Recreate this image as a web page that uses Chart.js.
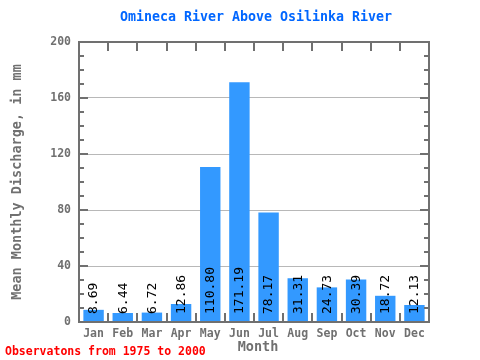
<!DOCTYPE html>
<html><head><meta charset="utf-8">
<script src="https://cdn.jsdelivr.net/npm/chart.js@4/dist/chart.umd.min.js"></script>
<style>html,body{margin:0;padding:0;background:#fff}#w{width:480px;height:360px}</style>
</head><body><div id="w"><canvas id="c" width="480" height="360"></canvas></div>
<script>
const months = ["Jan","Feb","Mar","Apr","May","Jun","Jul","Aug","Sep","Oct","Nov","Dec"];
const discharge = [8.69,6.44,6.72,12.86,110.80,171.19,78.17,31.31,24.73,30.39,18.72,12.13];
const valueLabels = ["8.69","6.44","6.72","12.86","110.80","171.19","78.17","31.31","24.73","30.39","18.72","12.13"];
const yTicks = [0,40,80,120,160,200];
const titleText = "Omineca River Above Osilinka River";
const yTitle = "Mean Monthly Discharge, in mm";
const xTitle = "Month";
const footText = "Observatons from 1975 to 2000";

const MONO = '"DejaVu Sans Mono", "Liberation Mono", monospace';
const GRAY = '#707070';

const deco = {
  id: 'deco',
  afterDatasetsDraw(chart) {
    const ctx = chart.ctx, a = chart.chartArea, y = chart.scales.y;
    ctx.save();
    // value labels
    const meta = chart.getDatasetMeta(0);
    ctx.fillStyle = '#000';
    ctx.font = '13px ' + MONO;
    ctx.textAlign = 'left';
    ctx.textBaseline = 'middle';
    meta.data.forEach((bar, i) => {
      ctx.save();
      ctx.translate(bar.x + 0.5, y.getPixelForValue(0) - 8);
      ctx.rotate(-Math.PI / 2);
      ctx.fillText(valueLabels[i], 0, 0);
      ctx.restore();
    });
    // frame
    ctx.strokeStyle = GRAY;
    ctx.lineWidth = 2;
    ctx.strokeRect(a.left, a.top, a.right - a.left, a.bottom - a.top);
    // y ticks (left and right)
    for (let v = 0; v <= 200; v += 10) {
      const py = Math.round(y.getPixelForValue(v));
      const len = (v % 40 === 0) ? 9 : 5;
      ctx.beginPath();
      ctx.moveTo(a.left, py); ctx.lineTo(a.left + len, py);
      ctx.moveTo(a.right, py); ctx.lineTo(a.right - len, py);
      ctx.stroke();
    }
    // x ticks at category boundaries
    const n = months.length;
    const w = (a.right - a.left) / n;
    for (let i = 1; i < n; i++) {
      const px = Math.round(a.left + i * w);
      ctx.beginPath();
      ctx.moveTo(px, a.bottom); ctx.lineTo(px, a.bottom - 9);
      ctx.moveTo(px, a.top); ctx.lineTo(px, a.top + 9);
      ctx.stroke();
    }
    // titles
    ctx.textAlign = 'center';
    ctx.textBaseline = 'middle';
    ctx.fillStyle = '#0066ff';
    ctx.font = 'bold 13.3px ' + MONO;
    ctx.fillText(titleText, 256, 18);
    ctx.fillStyle = GRAY;
    ctx.font = 'bold 13.5px ' + MONO;
    ctx.fillText(xTitle, 258, 347);
    ctx.save();
    ctx.translate(17, 182);
    ctx.rotate(-Math.PI / 2);
    ctx.fillText(yTitle, 0, 0);
    ctx.restore();
    ctx.fillStyle = '#ff0000';
    ctx.font = 'bold 11.5px ' + MONO;
    ctx.textAlign = 'left';
    ctx.fillText(footText, 5, 352);
    ctx.restore();
  }
};

new Chart(document.getElementById('c'), {
  type: 'bar',
  data: { labels: months, datasets: [{ data: discharge, backgroundColor: '#3399ff', borderWidth: 0, categoryPercentage: 0.7, barPercentage: 1.0 }] },
  options: {
    responsive: false, animation: false,
    layout: { padding: { top: 42, right: 51, bottom: 0, left: 0 } },
    plugins: { legend: { display: false }, title: { display: false }, tooltip: { enabled: false } },
    scales: {
      x: {
        afterFit(s) { s.height = 38; },
        grid: { display: false, drawTicks: false },
        border: { display: false },
        ticks: { color: GRAY, font: { family: MONO, size: 11.5, weight: 'bold' }, padding: 5, maxRotation: 0 }
      },
      y: {
        min: 0, max: 200,
        afterFit(s) { s.width = 79; },
        afterBuildTicks(s) { s.ticks = yTicks.map(v => ({ value: v })); },
        grid: { color: '#b8b8b8', lineWidth: 1, drawTicks: false },
        border: { display: false },
        ticks: { color: GRAY, font: { family: MONO, size: 11.5, weight: 'bold' }, padding: 8 }
      }
    }
  },
  plugins: [deco]
});
</script></body></html>
